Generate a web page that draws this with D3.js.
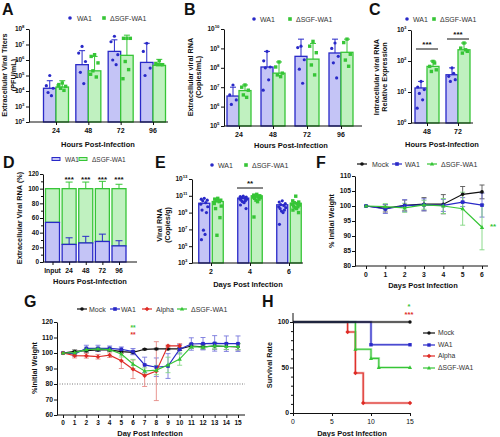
<!DOCTYPE html>
<html><head><meta charset="utf-8">
<script src="https://cdn.jsdelivr.net/npm/d3@7"></script>
<style>body{margin:0;background:#fff} svg{display:block} text{font-family:"Liberation Sans",Arial,Helvetica,sans-serif}</style>
</head><body><svg id="c" width="500" height="437"></svg>
<script>
// ---------------- DATA ----------------
const seriesNames = ["WA1", "\u0394SGF-WA1"];
// Panel A: extracellular viral titers (PFU/mL)
const hoursA = ["24", "48", "72", "96"];
const aWA1Mean = [1.5e4, 5e5, 3.6e6, 7e5];
const aWA1Top = [4.6e4, 4e6, 2e7, 1.2e7];
const aWA1Pts = [[1e5, 2.2e4, 1.5e4, 8e3, 5e3], [7.5e6, 2.8e6, 8e5, 1.6e5, 3e4], [3.4e7, 1.5e7, 2.2e6, 1e6, 5e5], [1.2e7, 3.6e6, 3e5, 1e5]];
const aSGFMean = [1.8e4, 2e5, 2e6, 4.5e5];
const aSGFTop = [4.6e4, 1.7e6, 4e7, 1.1e6];
const aSGFPts = [[3.3e4, 2.6e4, 2e4, 1.5e4, 1.1e4, 2.2e4], [2.2e6, 1.7e6, 6.5e5, 2e5, 8e4, 1.2e5], [2.5e7, 2.5e7, 2.5e7, 8e5, 2.4e5, 6.2e4], [9e5, 6e5, 5e5, 5e5, 5e5]];
// Panel B: extracellular viral RNA (copies/mL)
const hoursB = ["24", "48", "72", "96"];
const bWA1Mean = [3.5e6, 1.1e8, 3.9e8, 5.8e8];
const bWA1Top = [1e7, 7e8, 3e9, 3e9];
const bWA1Pts = [[1.3e7, 4e6, 2.2e6, 1.3e6], [7e8, 2.3e8, 1.1e8, 1e8, 2.4e7, 7e6], [1.3e9, 1.1e9, 2.6e8, 8.5e7, 1.6e7], [1.9e9, 1e9, 3.9e8, 1.8e8, 3e7]];
const bSGFMean = [6.7e6, 5.3e7, 2.8e8, 6.3e8];
const bSGFTop = [1.3e7, 2e8, 1.8e9, 3e9];
const bSGFPts = [[1.3e7, 1e7, 7e6, 4e6, 3e6], [2e8, 1.1e8, 5.3e7, 4.3e7, 3.5e7], [2.3e9, 1.3e9, 6e8, 1.4e8, 4.3e7], [3e9, 2e9, 5e8, 2.5e8, 1.2e8]];
// Panel C: intracellular viral RNA relative expression
const hoursC = ["48", "72"];
const cWA1Mean = [13.5, 36];
const cWA1Top = [22, 60];
const cWA1Pts = [[22, 14.5, 12, 9, 5.6, 3], [60, 32, 25, 22, 40]];
const cSGFMean = [67, 230];
const cSGFTop = [100, 380];
const cSGFPts = [[97, 67, 52, 46, 86], [380, 260, 205, 180, 230]];
const cSig = ["***", "***"];
// Panel D: extracellular viral RNA (%)
const hoursD = ["Input", "24", "48", "72", "96"];
const dWA1 = [54, 24, 26, 28, 22];
const dWA1Top = [null, 33, 35, 38, 29];
const dSGFTop = [null, 109, 109, 110, 106];
const dSig = ["", "***", "***", "***", "***"];
// Panel E: viral RNA (copies/g)
const daysE = ["2", "4", "6"];
const eWA1Mean = [1.3e10, 5.3e10, 8.5e9];
const eWA1Pts = [[5e10, 4e10, 3e10, 2.5e10, 1.5e10, 1e10, 5e9, 2e9, 1e9, 8e6, 2.5e6, 6e5], [9e10, 8e10, 7e10, 6e10, 5e10, 4.5e10, 4e10, 3e10, 2.5e10, 2e10, 1.5e10, 8e9, 3e9], [2.5e10, 1.8e10, 1.2e10, 9e9, 7e9, 5e9, 4e9, 3e9, 2e9, 1.5e9, 1e9, 4e7]];
const eSGFMean = [2.1e10, 1e11, 1.3e10];
const eSGFPts = [[5e10, 4e10, 3e10, 2.5e10, 2e10, 1.2e10, 6e9, 3e9, 2.5e8, 2e6], [1.5e11, 1.2e11, 1e11, 9e10, 8e10, 7e10, 6e10, 5e10, 4e10, 3e10, 2e10, 3e8], [9e10, 2.5e10, 1.8e10, 1.5e10, 1.2e10, 1e10, 8e9, 6e9, 5e9, 4e9, 3e9, 2e9, 1e9]];
// Panel F: % initial weight (hamsters)
const daysF = [0, 1, 2, 3, 4, 5, 6];
const fMock = [100, 99.2, 100.2, 100.6, 100.6, 103.9, 104.7];
const fMockErr = [0, 1.2, 1.8, 2.2, 3.2, 2.6, 2.3];
const fWA1 = [100, 99, 100.1, 100.4, 100.2, 101.3, 100.3];
const fWA1Err = [0, 1.5, 2, 2, 2, 1.5, 4];
const fSGF = [100, 99.8, 99.4, 100.4, 100, 99.1, 92.9];
const fSGFErr = [0, 1, 1.5, 1.5, 2.5, 5.5, 7.5];
// Panel G: %initial weight (mice)
const daysG = d3.range(0, 16);
const gMock = [100, 101, 101.5, 102, 102, 100.9, 100.4, 102.4, 102.6, 102.6, 102.6, 104.5, 104, 104.5, 104.2, 104];
const gMockErr = [0, 1, 1, 1, 1, 1, 1, 0.5, 0.5, 0.5, 1, 1.5, 1.5, 2, 2, 2];
const gWA1 = [100, 99.4, 103, 103, 103, 102.4, 100.9, 92.3, 90.8, 91.6, 102.4, 105.8, 106, 106.2, 106, 106];
const gWA1Err = [0, 1.5, 2, 2, 1.5, 1.5, 2, 5, 6, 8, 3, 4, 4, 5, 5, 5];
const gAlpha = [100, 98.3, 98.2, 97.6, 98.6, 95, 89.5, 85.4, 88.3, 104.6, 104.6];
const gAlphaErr = [0, 1.5, 1.5, 1.5, 1.5, 5, 6, 7, 19, 0.5, 1.5];
const gSGF = [100, 100.3, 102.2, 102.6, 102.2, 99.4, 92.9, 88.4, 89, 92.3, 96.1, 104.1, 103.8, 104.6, 104.3, 104.2];
const gSGFErr = [0, 1, 1, 1, 1, 2, 3, 2, 3, 5, 4, 1, 1, 2, 2, 2];
// Panel H: survival
const hMockT = [0, 15], hMockS = [100, 100];
const hWA1T = [0, 10, 15], hWA1S = [100, 75, 75];
const hAlphaT = [0, 7, 8, 9, 15], hAlphaS = [100, 89, 44, 11, 11];
const hSGFT = [0, 8, 10, 11, 15], hSGFS = [100, 70, 60, 50, 50];

// ---------------- STYLE ----------------
const svg = d3.select("#c");
const BLUE = "#2929c8", BLUEF = "#c4c4f6", GREEN = "#36c536", GREENF = "#c0f1c0", RED = "#de2b25", BLACK = "#111";
const JIT = [0, -3, 3, -1.5, 1.5, -3.5, 3.5, -2.2, 2.2, -0.8, 0.8, -2.8, 2.8, 0];

function txt(x, y, s, o = {}) {
  const t = svg.append("text").attr("x", x).attr("y", y).text(s)
    .attr("font-size", o.size || 7).attr("font-weight", o.bold === false ? "normal" : "bold")
    .attr("text-anchor", o.anchor || "middle").attr("fill", o.fill || "#111");
  if (o.rot) t.attr("transform", `rotate(-90,${x},${y})`);
  return t;
}
function styleAxis(g) {
  g.selectAll("path,line").attr("stroke", "#111").attr("stroke-width", 1);
  g.selectAll("text").remove();
}
function letter(x, y, s) { txt(x, y, s, { size: 16, anchor: "start" }); }

function logAxisY(y, x0, exps, fs = 6.5) {
  const g = svg.append("g").attr("transform", `translate(${x0},0)`)
    .call(d3.axisLeft(y).tickValues(exps.map(e => Math.pow(10, e))).tickSize(3).tickSizeOuter(0));
  styleAxis(g);
  exps.forEach(e => {
    const t = svg.append("text").attr("x", x0 - 4.5).attr("y", y(Math.pow(10, e)) + 2.3)
      .attr("text-anchor", "end").attr("font-size", fs).attr("font-weight", "bold").attr("fill", "#111");
    t.append("tspan").text("10");
    t.append("tspan").text(e).attr("font-size", 4.3).attr("dy", -3);
  });
}
function catAxisX(xs, x0, x1, yb, labels, fs = 7) {
  svg.append("line").attr("x1", x0).attr("x2", x1).attr("y1", yb).attr("y2", yb).attr("stroke", "#111").attr("stroke-width", 1);
  const g = svg.append("g").attr("transform", `translate(0,${yb})`).call(d3.axisBottom(xs).tickSize(3).tickSizeOuter(0));
  styleAxis(g); g.select(".domain").remove();
  labels.forEach(l => txt(xs(l), yb + 11, l, { size: fs }));
}
function dotLegend(x, y, items) {
  items.forEach(it => {
    if (it.shape === "circle") svg.append("circle").attr("cx", it.mx).attr("cy", y).attr("r", 1.8).attr("fill", it.color);
    else svg.append("rect").attr("x", it.mx - 1.8).attr("y", y - 1.8).attr("width", 3.6).attr("height", 3.6).attr("fill", it.color);
    txt(it.tx, y + 2.5, it.label, { size: 7, anchor: "start", bold: false, fill: "#333" });
  });
}
function upErr(x, y0, y1, color, w = 6) {
  svg.append("line").attr("x1", x).attr("x2", x).attr("y1", y0).attr("y2", y1).attr("stroke", color).attr("stroke-width", 1);
  svg.append("line").attr("x1", x - w / 2).attr("x2", x + w / 2).attr("y1", y1).attr("y2", y1).attr("stroke", color).attr("stroke-width", 1);
}
function marker(g, shape, x, y, color, s = 2) {
  if (shape === "circle") g.append("circle").attr("cx", x).attr("cy", y).attr("r", s).attr("fill", color);
  else if (shape === "square") g.append("rect").attr("x", x - s).attr("y", y - s).attr("width", 2 * s).attr("height", 2 * s).attr("fill", color);
  else if (shape === "diamond") g.append("path").attr("d", `M${x},${y - s * 1.3}L${x + s * 1.3},${y}L${x},${y + s * 1.3}L${x - s * 1.3},${y}Z`).attr("fill", color);
  else g.append("path").attr("d", `M${x},${y - s * 1.3}L${x + s * 1.2},${y + s * 0.9}L${x - s * 1.2},${y + s * 0.9}Z`).attr("fill", color);
}

// generic log bar + dot panel
function logBarPanel(o) {
  const y = d3.scaleLog().domain([Math.pow(10, o.exps[0]), Math.pow(10, o.exps[o.exps.length - 1])]).range([o.yb, o.yt]);
  const xs = d3.scalePoint().domain(o.cats).range([o.c0, o.c1]);
  const base = o.yb;
  const ser = [
    { mean: o.wMean, top: o.wTop, pts: o.wPts, fill: BLUEF, stroke: BLUE, shape: "circle", side: -1 },
    { mean: o.sMean, top: o.sTop, pts: o.sPts, fill: GREENF, stroke: GREEN, shape: "square", side: 1 }
  ];
  ser.forEach(s => {
    o.cats.forEach((c, i) => {
      const cx = xs(c) + s.side * (o.gap / 2 + o.bw / 2);
      const yt = y(s.mean[i]);
      svg.append("rect").attr("x", cx - o.bw / 2).attr("y", yt).attr("width", o.bw).attr("height", base - yt)
        .attr("fill", s.fill).attr("stroke", s.stroke).attr("stroke-width", 1.3);
      if (s.top) upErr(cx, yt, y(s.top[i]), s.stroke);
      const g = svg.append("g");
      s.pts[i].forEach((v, j) => marker(g, s.shape, cx + JIT[j % JIT.length] * o.bw / 11, y(v), s.stroke, s.shape === "circle" ? 1.6 : 1.7));
    });
  });
  logAxisY(y, o.x0, o.exps);
  catAxisX(xs, o.x0, o.x1, o.yb, o.cats);
  return { y, xs };
}

// ---------------- PANEL A ----------------
letter(2, 15, "A");
dotLegend(0, 18, [{ shape: "circle", mx: 70, tx: 77, color: BLUE, label: seriesNames[0] }, { shape: "square", mx: 104, tx: 110, color: GREEN, label: seriesNames[1] }]);
logBarPanel({ cats: hoursA, exps: [2, 3, 4, 5, 6, 7, 8], yb: 122, yt: 29, x0: 29, x1: 168, c0: 56, c1: 153, bw: 12.5, gap: 0,
  wMean: aWA1Mean, wTop: aWA1Top, wPts: aWA1Pts, sMean: aSGFMean, sTop: aSGFTop, sPts: aSGFPts });
txt(7, 75, "Extracellular Viral Titers", { rot: true, size: 7.3 });
txt(15.5, 75, "(PFU/mL)", { rot: true, size: 7.3 });
txt(98, 147, "Hours Post-Infection", { size: 7.5 });

// ---------------- PANEL B ----------------
letter(184, 15, "B");
dotLegend(0, 19, [{ shape: "circle", mx: 254, tx: 260, color: BLUE, label: seriesNames[0] }, { shape: "square", mx: 290, tx: 296, color: GREEN, label: seriesNames[1] }]);
logBarPanel({ cats: hoursB, exps: [5, 6, 7, 8, 9, 10], yb: 126, yt: 29, x0: 224, x1: 362, c0: 239, c1: 341, bw: 12, gap: 0,
  wMean: bWA1Mean, wTop: bWA1Top, wPts: bWA1Pts, sMean: bSGFMean, sTop: bSGFTop, sPts: bSGFPts });
txt(193, 77, "Extracellular viral RNA", { rot: true, size: 7.3 });
txt(201, 77, "(Copies/mL)", { rot: true, size: 7.3 });
txt(291, 148, "Hours Post-Infection", { size: 7.5 });

// ---------------- PANEL C ----------------
letter(369, 15, "C");
dotLegend(0, 19, [{ shape: "circle", mx: 407, tx: 413, color: BLUE, label: seriesNames[0] }, { shape: "square", mx: 434, tx: 440, color: GREEN, label: seriesNames[1] }]);
const pc = logBarPanel({ cats: hoursC, exps: [0, 1, 2, 3], yb: 123, yt: 30, x0: 411, x1: 473, c0: 427, c1: 458, bw: 12, gap: 0,
  wMean: cWA1Mean, wTop: cWA1Top, wPts: cWA1Pts, sMean: cSGFMean, sTop: cSGFTop, sPts: cSGFPts });
hoursC.forEach((c, i) => {
  const yl = i === 0 ? 49 : 39;
  svg.append("line").attr("x1", pc.xs(c) - 11).attr("x2", pc.xs(c) + 11).attr("y1", yl).attr("y2", yl).attr("stroke", "#111").attr("stroke-width", 1);
  txt(pc.xs(c), yl - 2, cSig[i], { size: 8 });
});
txt(379, 77, "Intracellular viral RNA", { rot: true, size: 7.3 });
txt(387, 77, "Relative Expression", { rot: true, size: 7.3 });
txt(442, 147, "Hours Post-Infection", { size: 7.5 });

// ---------------- PANEL D ----------------
letter(3, 168, "D");
{
  svg.append("rect").attr("x", 52).attr("y", 157.5).attr("width", 8).attr("height", 3).attr("fill", BLUEF).attr("stroke", BLUE).attr("stroke-width", 1);
  txt(65, 161.5, seriesNames[0], { size: 6.5, anchor: "start", bold: false, fill: "#333" });
  svg.append("rect").attr("x", 79).attr("y", 157.5).attr("width", 8).attr("height", 3).attr("fill", GREENF).attr("stroke", GREEN).attr("stroke-width", 1);
  txt(92, 161.5, seriesNames[1], { size: 6.5, anchor: "start", bold: false, fill: "#333" });
  const y = d3.scaleLinear().domain([0, 120]).range([262, 174]);
  const xs = d3.scalePoint().domain(hoursD).range([52.5, 119]);
  const bw = 14;
  hoursD.forEach((c, i) => {
    const cx = xs(c);
    svg.append("rect").attr("x", cx - bw / 2).attr("y", y(100)).attr("width", bw).attr("height", y(dWA1[i]) - y(100))
      .attr("fill", GREENF).attr("stroke", GREEN).attr("stroke-width", 1.3);
    if (dSGFTop[i]) upErr(cx, y(100), y(dSGFTop[i]), GREEN, 7);
    svg.append("rect").attr("x", cx - bw / 2).attr("y", y(dWA1[i])).attr("width", bw).attr("height", y(0) - y(dWA1[i]))
      .attr("fill", BLUEF).attr("stroke", BLUE).attr("stroke-width", 1.3);
    if (dWA1Top[i]) upErr(cx, y(dWA1[i]), y(dWA1Top[i]), BLUE, 7);
    if (dSig[i]) txt(cx, y(112) + 2, dSig[i], { size: 8 });
  });
  const g = svg.append("g").attr("transform", "translate(43,0)").call(d3.axisLeft(y).tickValues(d3.range(0, 121, 20)).tickSize(3).tickSizeOuter(0));
  styleAxis(g);
  const gm = svg.append("g").attr("transform", "translate(43,0)").call(d3.axisLeft(y).tickValues(d3.range(10, 120, 20)).tickSize(2).tickSizeOuter(0));
  styleAxis(gm); gm.select(".domain").remove();
  d3.range(0, 121, 20).forEach(v => txt(39, y(v) + 2.4, v, { size: 6.5, anchor: "end" }));
  catAxisX(xs, 43, 137, 262, hoursD, 6.8);
  txt(22, 218, "Extracellular Viral  RNA  (%)", { rot: true, size: 7.3 });
  txt(90, 284, "Hours Post-Infection", { size: 7.5 });
}

// ---------------- PANEL E ----------------
letter(155, 168, "E");
dotLegend(0, 165, [{ shape: "circle", mx: 212, tx: 218, color: BLUE, label: seriesNames[0] }, { shape: "square", mx: 246, tx: 252, color: GREEN, label: seriesNames[1] }]);
{
  const pe = logBarPanel({ cats: daysE, exps: [3, 5, 7, 9, 11, 13], yb: 263, yt: 179, x0: 192, x1: 303, c0: 211, c1: 289, bw: 11, gap: 2.5,
    wMean: eWA1Mean, wTop: null, wPts: eWA1Pts, sMean: eSGFMean, sTop: null, sPts: eSGFPts });
  svg.append("line").attr("x1", pe.xs("4") - 13).attr("x2", pe.xs("4") + 13).attr("y1", 188).attr("y2", 188).attr("stroke", "#111").attr("stroke-width", 1);
  txt(pe.xs("4"), 186, "**", { size: 8 });
  txt(162, 225, "Viral RNA", { rot: true, size: 7.3 });
  txt(170, 225, "(Copies/g)", { rot: true, size: 7.3 });
  txt(248, 287, "Days Post Infection", { size: 7.5 });
}

// line-panel helpers
function linePanel(o) {
  o.series.forEach(s => {
    const g = svg.append("g");
    s.vals.forEach((v, i) => {
      const e = s.err[i];
      if (!e) return;
      const x = o.x(o.xs[i]);
      g.append("line").attr("x1", x).attr("x2", x).attr("y1", o.y(v - e)).attr("y2", o.y(v + e)).attr("stroke", s.ecolor).attr("stroke-width", 0.9);
      [v - e, v + e].forEach(w => g.append("line").attr("x1", x - 2.5).attr("x2", x + 2.5).attr("y1", o.y(w)).attr("y2", o.y(w)).attr("stroke", s.ecolor).attr("stroke-width", 0.9));
    });
  });
  o.series.forEach(s => {
    const g = svg.append("g");
    g.append("path").datum(s.vals).attr("d", d3.line().x((d, i) => o.x(o.xs[i])).y(d => o.y(d)))
      .attr("fill", "none").attr("stroke", s.color).attr("stroke-width", 1.2);
    s.vals.forEach((v, i) => marker(g, s.shape, o.x(o.xs[i]), o.y(v), s.color, o.ms || 1.8));
  });
}
function lineLegend(y, items) {
  items.forEach(it => {
    svg.append("line").attr("x1", it.mx - 5).attr("x2", it.mx + 5).attr("y1", y).attr("y2", y).attr("stroke", it.color).attr("stroke-width", 1.2);
    marker(svg.append("g"), it.shape, it.mx, y, it.color, 1.8);
    txt(it.tx, y + 2.5, it.label, { size: 7, anchor: "start", bold: false, fill: "#333" });
  });
}

// ---------------- PANEL F ----------------
letter(316, 168, "F");
{
  const x = d3.scaleLinear().domain([0, 6]).range([366, 482]);
  const y = d3.scaleLinear().domain([80, 110]).range([266, 176]);
  lineLegend(164, [{ mx: 362, tx: 372, color: BLACK, shape: "circle", label: "Mock" }, { mx: 397, tx: 405, color: BLUE, shape: "square", label: "WA1" }, { mx: 432, tx: 441, color: GREEN, shape: "triangle", label: seriesNames[1] }]);
  linePanel({ x, y, xs: daysF, series: [
    { vals: fMock, err: fMockErr, color: BLACK, ecolor: "#555", shape: "circle" },
    { vals: fWA1, err: fWA1Err, color: BLUE, ecolor: "#6f6fd8", shape: "square" },
    { vals: fSGF, err: fSGFErr, color: GREEN, ecolor: "#7fd67f", shape: "triangle" }] });
  const gy = svg.append("g").attr("transform", "translate(355,0)").call(d3.axisLeft(y).tickValues(d3.range(80, 111, 5)).tickSize(3).tickSizeOuter(0));
  styleAxis(gy);
  d3.range(80, 111, 5).forEach(v => txt(351, y(v) + 2.4, v, { size: 6.8, anchor: "end" }));
  svg.append("line").attr("x1", 355).attr("x2", 488).attr("y1", 266).attr("y2", 266).attr("stroke", "#111");
  const gx = svg.append("g").attr("transform", "translate(0,266)").call(d3.axisBottom(x).tickValues(daysF).tickSize(3).tickSizeOuter(0));
  styleAxis(gx); gx.select(".domain").remove();
  daysF.forEach(d => txt(x(d), 277, d, { size: 6.8 }));
  txt(493, y(92.5), "**", { size: 8, fill: GREEN });
  txt(334, 221, "% Initial Weight", { rot: true, size: 7.3 });
  txt(423, 288, "Days Post Infection", { size: 7.5 });
}

// ---------------- PANEL G ----------------
letter(24, 307, "G");
{
  const x = d3.scaleLinear().domain([0, 15]).range([63, 238]);
  const y = d3.scaleLinear().domain([60, 120]).range([415, 322]);
  lineLegend(309, [{ mx: 82, tx: 89, color: BLACK, shape: "circle", label: "Mock" }, { mx: 115, tx: 121, color: BLUE, shape: "square", label: "WA1" },
    { mx: 147, tx: 156, color: RED, shape: "diamond", label: "Alpha" }, { mx: 182, tx: 191, color: GREEN, shape: "triangle", label: seriesNames[1] }]);
  svg.append("line").attr("x1", 57).attr("x2", 245).attr("y1", y(80)).attr("y2", y(80)).attr("stroke", "#555").attr("stroke-width", 0.8).attr("stroke-dasharray", "1,1.5");
  linePanel({ x, y, xs: daysG, series: [
    { vals: gMock, err: gMockErr, color: BLACK, ecolor: "#555", shape: "circle" },
    { vals: gWA1, err: gWA1Err, color: BLUE, ecolor: "#7878dc", shape: "square" },
    { vals: gAlpha, err: gAlphaErr, color: RED, ecolor: "#e58a86", shape: "diamond" },
    { vals: gSGF, err: gSGFErr, color: GREEN, ecolor: "#85d885", shape: "triangle" }] });
  const gy = svg.append("g").attr("transform", "translate(57,0)").call(d3.axisLeft(y).tickValues(d3.range(60, 121, 10)).tickSize(3).tickSizeOuter(0));
  styleAxis(gy);
  d3.range(60, 121, 10).forEach(v => txt(53, y(v) + 2.4, v, { size: 6.8, anchor: "end" }));
  svg.append("line").attr("x1", 57).attr("x2", 245).attr("y1", 415).attr("y2", 415).attr("stroke", "#111");
  const gx = svg.append("g").attr("transform", "translate(0,415)").call(d3.axisBottom(x).tickValues(daysG).tickSize(3).tickSizeOuter(0));
  styleAxis(gx); gx.select(".domain").remove();
  daysG.forEach(d => txt(x(d), 425, d, { size: 6.5 }));
  txt(x(6), 329.5, "**", { size: 6.5, fill: GREEN });
  txt(x(6), 337, "**", { size: 6.5, fill: RED });
  txt(37, 368, "%Initial Weight", { rot: true, size: 7.3 });
  txt(150, 436, "Day Post Infection", { size: 7.5 });
}

// ---------------- PANEL H ----------------
letter(262, 307, "H");
{
  const x = d3.scaleLinear().domain([0, 15]).range([293, 410]);
  const y = d3.scaleLinear().domain([0, 100]).range([413, 322]);
  const step = d3.line().x(d => x(d[0])).y(d => y(d[1])).curve(d3.curveStepAfter);
  const sers = [
    { t: hAlphaT, s: hAlphaS, color: RED, shape: "diamond" },
    { t: hSGFT, s: hSGFS, color: GREEN, shape: "triangle" },
    { t: hWA1T, s: hWA1S, color: BLUE, shape: "square" },
    { t: hMockT, s: hMockS, color: BLACK, shape: "circle" }];
  sers.forEach(s => {
    const pts = s.t.map((t, i) => [t, s.s[i]]);
    svg.append("path").datum(pts).attr("d", step).attr("fill", "none").attr("stroke", s.color).attr("stroke-opacity", 0.35).attr("stroke-width", 2.6);
    svg.append("path").datum(pts).attr("d", step).attr("fill", "none").attr("stroke", s.color).attr("stroke-width", 1.1);
    const g = svg.append("g");
    pts.slice(1).forEach(p => marker(g, s.shape, x(p[0]), y(p[1]), s.color, 1.7));
  });
  const gy = svg.append("g").attr("transform", "translate(293,0)").call(d3.axisLeft(y).tickValues([0, 50, 100]).tickSize(3).tickSizeOuter(0));
  styleAxis(gy);
  const gym = svg.append("g").attr("transform", "translate(293,0)").call(d3.axisLeft(y).tickValues([10, 20, 30, 40, 60, 70, 80, 90]).tickSize(2).tickSizeOuter(0));
  styleAxis(gym); gym.select(".domain").remove();
  svg.append("line").attr("x1", 293).attr("x2", 293).attr("y1", 313).attr("y2", 322).attr("stroke", "#111");
  [0, 50, 100].forEach(v => txt(289, y(v) + 2.4, v, { size: 6.8, anchor: "end" }));
  const gx = svg.append("g").attr("transform", "translate(0,413)").call(d3.axisBottom(x).tickValues([0, 5, 10, 15]).tickSize(3).tickSizeOuter(0));
  styleAxis(gx);
  [0, 5, 10, 15].forEach(v => txt(x(v), 424, v, { size: 6.8, bold: false }));
  txt(409, 308.5, "*", { size: 7.5, fill: GREEN });
  txt(409, 317, "***", { size: 7.5, fill: RED });
  const leg = [{ y: 333, color: BLACK, shape: "circle", label: "Mock" }, { y: 345, color: BLUE, shape: "square", label: "WA1" },
    { y: 356, color: RED, shape: "diamond", label: "Alpha" }, { y: 368, color: GREEN, shape: "triangle", label: seriesNames[1] }];
  leg.forEach(l => {
    svg.append("line").attr("x1", 423).attr("x2", 435).attr("y1", l.y).attr("y2", l.y).attr("stroke", l.color).attr("stroke-width", 1.2);
    marker(svg.append("g"), l.shape, 429, l.y, l.color, 1.7);
    txt(438, l.y + 2.4, l.label, { size: 6.8, anchor: "start", bold: false, fill: "#333" });
  });
  txt(272, 365, "Survival  Rate", { rot: true, size: 7.3 });
  txt(352, 436, "Days Post Infection", { size: 7.5 });
}
</script></body></html>
